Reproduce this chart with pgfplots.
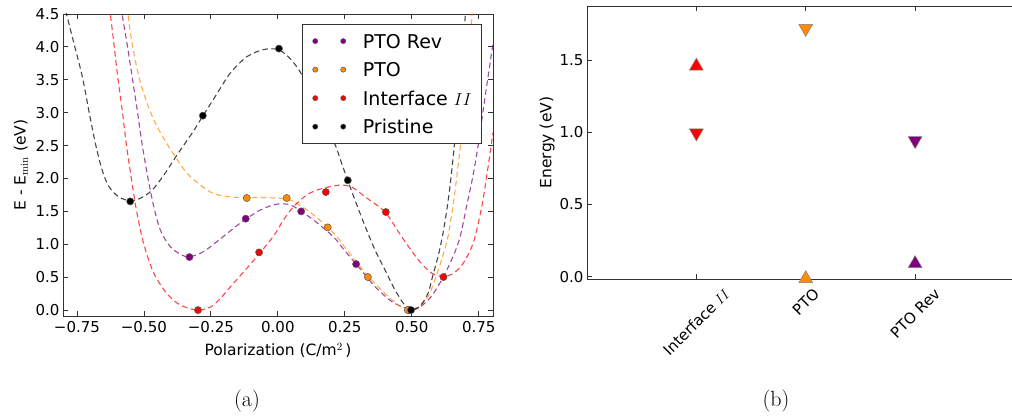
\documentclass[border=0pt]{standalone}
\usepackage{fontspec}
\usepackage{graphicx}
\usepackage{pgfplots}
\pgfplotsset{compat=1.18}
\newfontfamily\dejavu{DejaVu Sans}
\definecolor{cpurple}{RGB}{128,0,128}
\definecolor{corange}{RGB}{255,140,0}
\definecolor{cred}{RGB}{255,0,0}
\definecolor{cblack}{RGB}{0,0,0}
\pgfplotsset{
  fitline/.style={smooth, line width=1.1pt, dash pattern=on 5.5pt off 3.5pt, draw opacity=0.72, forget plot},
  dots/.style={only marks, mark=*, mark size=3.6pt, mark options={solid, fill=#1, draw=black!65, line width=0.5pt}},
  myframe/.style={
    scale only axis, anchor=south west,
    tick align=inside, major tick length=5pt,
    every tick/.style={black!80, line width=0.8pt},
    axis line style={black!80, line width=0.9pt},
    tick label style={font=\dejavu\fontsize{15}{18}\selectfont},
    label style={font=\dejavu\fontsize{15.5}{18}\selectfont},
  },
}
\begin{document}
\begin{tikzpicture}
% ---------------- (a) ----------------
\begin{axis}[myframe,
  at={(63pt,-316pt)}, width=430pt, height=302pt,
  xmin=-0.802, xmax=0.803, ymin=-0.09, ymax=4.5,
  xtick={-0.75,-0.5,-0.25,0,0.25,0.5,0.75},
  xticklabels={−0.75,−0.50,−0.25,0.00,0.25,0.50,0.75},
  ytick={0,0.5,1,1.5,2,2.5,3,3.5,4,4.5},
  yticklabels={0.0,0.5,1.0,1.5,2.0,2.5,3.0,3.5,4.0,4.5},
  xticklabel style={yshift=-2pt},
  xlabel={Polarization (C/m$^2$\,)},
  ylabel={E - E$_{\mathrm{min}}$ (eV)},
  xlabel style={at={(axis description cs:0.5,-0.113)}, anchor=center},
  ylabel style={at={(axis description cs:-0.098,0.5)}, anchor=center},
  legend image code/.code={\draw[#1, mark size=2.6pt] plot coordinates {(0pt,0pt) (28pt,0pt)};},
  legend cell align=left,
  legend style={at={(axis description cs:1,1)}, anchor=north east, xshift=-11pt, yshift=-10pt,
    draw=black!80, line width=0.8pt, fill=white,
    font=\dejavu\fontsize{19}{22}\selectfont,
    inner xsep=10pt, inner ysep=2.5pt,
    nodes={inner xsep=0pt, inner ysep=7.25pt, text height=14pt, text depth=0pt},
    /tikz/every odd column/.append style={column sep=17pt}},
]
% fitted curves
\addplot[fitline, color=cpurple] coordinates {
(-0.586,4.75) (-0.581,4.49) (-0.563,4.05) (-0.544,3.55) (-0.525,3.04) (-0.507,2.53)
(-0.486,2.03) (-0.463,1.57) (-0.439,1.22) (-0.401,0.96) (-0.360,0.84) (-0.329,0.81)
(-0.277,0.89) (-0.203,1.12) (-0.141,1.32) (-0.066,1.52) (-0.004,1.61) (0.046,1.60)
(0.087,1.50) (0.133,1.37) (0.207,1.115) (0.250,0.90) (0.292,0.70) (0.363,0.355)
(0.425,0.13) (0.475,0.035) (0.505,0.02) (0.535,0.06) (0.575,0.22) (0.625,0.56)
(0.675,1.04) (0.705,1.59) (0.730,2.08) (0.748,2.52) (0.772,3.20) (0.803,4.05)};
\addplot[fitline, color=corange] coordinates {
(-0.564,4.75) (-0.557,4.41) (-0.544,4.05) (-0.519,3.55) (-0.488,3.14) (-0.457,2.84)
(-0.426,2.61) (-0.383,2.33) (-0.339,2.08) (-0.289,1.90) (-0.240,1.77) (-0.178,1.72)
(-0.116,1.71) (-0.066,1.71) (0.033,1.69) (0.070,1.62) (0.120,1.49) (0.186,1.26)
(0.220,1.12) (0.238,1.02) (0.290,0.75) (0.338,0.51) (0.400,0.25) (0.450,0.076)
(0.481,0.0) (0.520,0.02) (0.560,0.20) (0.585,0.45) (0.610,0.75) (0.635,1.12)
(0.655,1.62) (0.670,2.10) (0.685,2.65) (0.705,3.60) (0.724,4.46) (0.730,4.75)};
\addplot[fitline, color=cred] coordinates {
(-0.632,4.75) (-0.625,4.49) (-0.612,4.05) (-0.598,3.55) (-0.581,3.04) (-0.566,2.53)
(-0.548,2.03) (-0.528,1.52) (-0.501,1.01) (-0.463,0.56) (-0.414,0.25) (-0.364,0.076)
(-0.298,0.0) (-0.240,0.076) (-0.165,0.41) (-0.085,0.78) (-0.017,1.12) (0.021,1.37)
(0.058,1.57) (0.108,1.75) (0.151,1.83) (0.200,1.88) (0.238,1.90) (0.276,1.87)
(0.326,1.72) (0.400,1.49) (0.462,1.115) (0.525,0.76) (0.575,0.56) (0.620,0.51)
(0.655,0.56) (0.690,0.70) (0.730,1.03) (0.760,1.55) (0.780,2.05) (0.803,2.70)};
\addplot[fitline, color=cblack] coordinates {
(-0.800,4.68) (-0.789,4.50) (-0.761,4.05) (-0.730,3.55) (-0.706,3.04) (-0.681,2.53)
(-0.656,2.13) (-0.631,1.88) (-0.594,1.72) (-0.549,1.66) (-0.513,1.70) (-0.470,1.82)
(-0.426,2.05) (-0.376,2.36) (-0.320,2.69) (-0.280,2.95) (-0.227,3.29) (-0.178,3.60)
(-0.116,3.85) (-0.053,3.96) (0.000,3.96) (0.039,3.85) (0.083,3.62) (0.150,3.10)
(0.213,2.52) (0.238,2.23) (0.261,1.97) (0.288,1.67) (0.326,1.27) (0.363,0.91)
(0.400,0.61) (0.438,0.30) (0.469,0.10) (0.497,0.0) (0.530,0.06) (0.560,0.25)
(0.580,0.55) (0.600,0.85) (0.620,1.25) (0.640,1.80) (0.660,2.55) (0.680,3.45)
(0.700,4.50) (0.705,4.75)};
% computed points
\addplot[dots=cpurple] coordinates {(-0.330,0.806) (-0.120,1.389) (0.087,1.500) (0.292,0.699) (0.490,0.0)};
\addlegendentry{PTO Rev}
\addplot[dots=corange] coordinates {(-0.116,1.703) (0.033,1.703) (0.186,1.257) (0.336,0.502) (0.485,0.0)};
\addlegendentry{PTO}
\addplot[dots=cred] coordinates {(-0.298,0.0) (-0.070,0.877) (0.179,1.794) (0.403,1.490) (0.618,0.502)};
\addlegendentry{Interface $II$}
\addplot[dots=cblack] coordinates {(-0.551,1.652) (-0.280,2.955) (0.004,3.974) (0.261,1.972) (0.497,0.0)};
\addlegendentry{Pristine}
\end{axis}
% ---------------- (b) ----------------
\begin{axis}[myframe,
  at={(587pt,-279pt)}, width=425pt, height=273pt,
  xmin=0, xmax=3.886, ymin=-0.016, ymax=1.875,
  axis x line*=box, axis y line*=left,
  xtick={1,2,3},
  xticklabels={{\rotatebox{45}{Interface $II$}},{\rotatebox{45}{PTO}},{\rotatebox{45}{PTO Rev}}},
  xticklabel style={anchor=north, inner sep=0pt, yshift=-8pt},
  ytick={0,0.5,1,1.5},
  yticklabels={0.0,0.5,1.0,1.5},
  ylabel={Energy (eV)},
  ylabel style={at={(axis description cs:-0.094,0.5)}, anchor=center},
]
\addplot[only marks, mark=triangle*, mark size=8pt, mark options={fill=cred, draw=gray, line width=0.5pt, yshift=-2pt}] coordinates {(1,1.472)};
\addplot[only marks, mark=triangle*, mark size=8pt, mark options={fill=cred, draw=gray, line width=0.5pt, yshift=2pt, rotate=180}] coordinates {(1,0.982)};
\addplot[only marks, mark=triangle*, mark size=8pt, mark options={fill=corange, draw=gray, line width=0.5pt, yshift=2pt, rotate=180}] coordinates {(2,1.706)};
\addplot[only marks, mark=triangle*, mark size=8pt, mark options={fill=corange, draw=gray, line width=0.5pt, yshift=-2pt}] coordinates {(2,0.0)};
\addplot[only marks, mark=triangle*, mark size=8pt, mark options={fill=cpurple, draw=gray, line width=0.5pt, yshift=2pt, rotate=180}] coordinates {(3,0.929)};
\addplot[only marks, mark=triangle*, mark size=8pt, mark options={fill=cpurple, draw=gray, line width=0.5pt, yshift=-2pt}] coordinates {(3,0.104)};
\end{axis}
% captions
\node[anchor=base, font=\fontsize{22}{26}\selectfont, inner sep=0pt] at (247pt,-406.5pt) {(a)};
\node[anchor=base, font=\fontsize{22}{26}\selectfont, inner sep=0pt] at (776pt,-406.5pt) {(b)};
\pgfresetboundingbox
\path[use as bounding box] (0pt,0pt) rectangle (1012pt,-419pt);
\end{tikzpicture}
\end{document}
